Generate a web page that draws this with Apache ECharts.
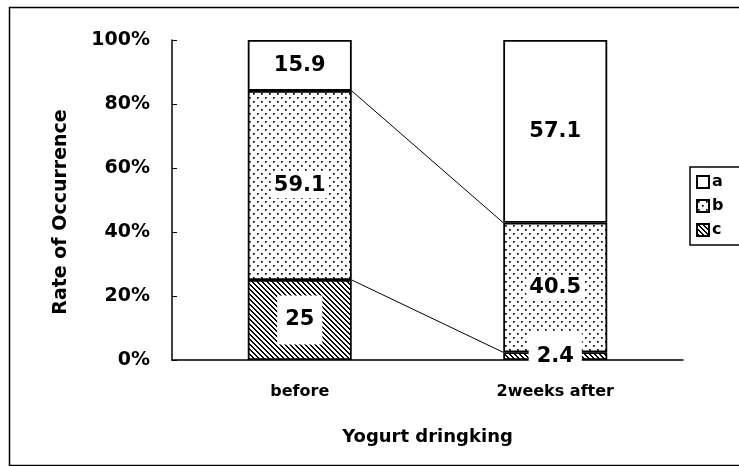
<!DOCTYPE html>
<html lang="en">
<head>
<meta charset="UTF-8">
<title>Yogurt dringking</title>
<script src="https://cdn.jsdelivr.net/npm/echarts@6/dist/echarts.min.js"></script>
<style>
  html, body { margin: 0; padding: 0; background: #fff; }
  #chart { width: 739px; height: 466px; }
</style>
</head>
<body>
<div id="chart"></div>
<script>
// data
var categories = ["before", "2weeks after"];
var seriesNames = ["a", "b", "c"];
var valA = [15.9, 57.1];
var valB = [59.1, 40.5];
var valC = [25, 2.4];
var yTicks = [0, 20, 40, 60, 80, 100];

var FONT = "DejaVu Sans, Arial, sans-serif";
var BAR_W = 104;

// fill patterns
function makeTile(w, h, draw) {
  var c = document.createElement("canvas");
  c.width = w; c.height = h;
  var ctx = c.getContext("2d");
  ctx.fillStyle = "#fff";
  ctx.fillRect(0, 0, w, h);
  ctx.fillStyle = "#000";
  draw(ctx);
  return c;
}
var dotTile = makeTile(8, 8, function (ctx) {
  ctx.fillRect(1, 1, 1.7, 1.7);
  ctx.fillRect(5, 5, 1.7, 1.7);
});
var hatchTile = makeTile(5, 5, function (ctx) {
  for (var i = 0; i < 5; i++) {
    ctx.fillRect(i, i, 1, 1);
    ctx.fillRect((i + 1) % 5, i, 1, 1);
  }
});
var fills = {
  a: "#fff",
  b: { image: dotTile, repeat: "repeat" },
  c: { image: hatchTile, repeat: "repeat" }
};

function barSeries(name, data, pad) {
  return {
    name: name,
    type: "bar",
    stack: "total",
    barWidth: BAR_W,
    data: data,
    itemStyle: { color: fills[name], borderColor: "#000", borderWidth: 1.8 },
    label: {
      show: true,
      position: "inside",
      color: "#000",
      fontFamily: FONT,
      fontWeight: "bold",
      fontSize: 21,
      backgroundColor: "#fff",
      padding: pad
    },
    emphasis: { disabled: true }
  };
}

// connector lines between the two bars at the b and c tops
var cumC = valC.slice();
var cumB = valC.map(function (v, i) { return v + valB[i]; });
var linkData = [[0, cumC[0], cumC[1]], [0, cumB[0], cumB[1]]];

var chart = echarts.init(document.getElementById("chart"));
var option = {
  animation: false,
  backgroundColor: "#fff",
  grid: { left: 172, right: 56, top: 40, bottom: 106 },
  legend: {
    left: 690,
    top: 167,
    orient: "vertical",
    data: seriesNames,
    icon: "rect",
    borderColor: "#000",
    borderWidth: 1.5,
    padding: [7, 30, 7, 6],
    itemWidth: 12,
    itemHeight: 12,
    itemGap: 8,
    textStyle: { fontFamily: FONT, fontWeight: "bold", fontSize: 16, color: "#000", padding: [0, 0, 0, -2] }
  },
  xAxis: {
    type: "category",
    data: categories,
    name: "Yogurt dringking",
    nameLocation: "middle",
    nameGap: 68,
    nameTextStyle: { fontFamily: FONT, fontWeight: "bold", fontSize: 18, color: "#000" },
    axisLine: { lineStyle: { color: "#000", width: 1.5 } },
    axisTick: { show: false },
    axisLabel: { margin: 24, fontFamily: FONT, fontWeight: "bold", fontSize: 16, color: "#000" }
  },
  yAxis: {
    type: "value",
    min: yTicks[0],
    max: yTicks[yTicks.length - 1],
    interval: 20,
    name: "Rate of Occurrence",
    nameLocation: "middle",
    nameGap: 101,
    nameTextStyle: { fontFamily: FONT, fontWeight: "bold", fontSize: 19, color: "#000", padding: [0, 24, 0, 0] },
    axisLine: { show: true, lineStyle: { color: "#000", width: 1.5 } },
    axisTick: { show: true, inside: true, length: 5, lineStyle: { color: "#000" } },
    splitLine: { show: false },
    axisLabel: { margin: 22, fontFamily: FONT, fontWeight: "bold", fontSize: 19, color: "#000", formatter: "{value}%" }
  },
  series: [
    barSeries("c", valC, [14, 8]),
    barSeries("b", valB, [2, 3]),
    barSeries("a", valA, [2, 3]),
    {
      type: "custom",
      silent: true,
      data: linkData,
      encode: { x: 0, y: 1 },
      z: 1,
      renderItem: function (params, api) {
        var p0 = api.coord([0, api.value(1)]);
        var p1 = api.coord([1, api.value(2)]);
        return {
          type: "line",
          shape: { x1: p0[0] + BAR_W / 2, y1: p0[1], x2: p1[0] - BAR_W / 2, y2: p1[1] },
          style: { stroke: "#000", lineWidth: 1 }
        };
      }
    }
  ],
  graphic: [
    {
      type: "rect",
      left: 7,
      top: 5,
      shape: { width: 800, height: 458 },
      style: { fill: null, stroke: "#000", lineWidth: 1.5 },
      silent: true
    }
  ]
};
chart.setOption(option);
</script>
</body>
</html>
